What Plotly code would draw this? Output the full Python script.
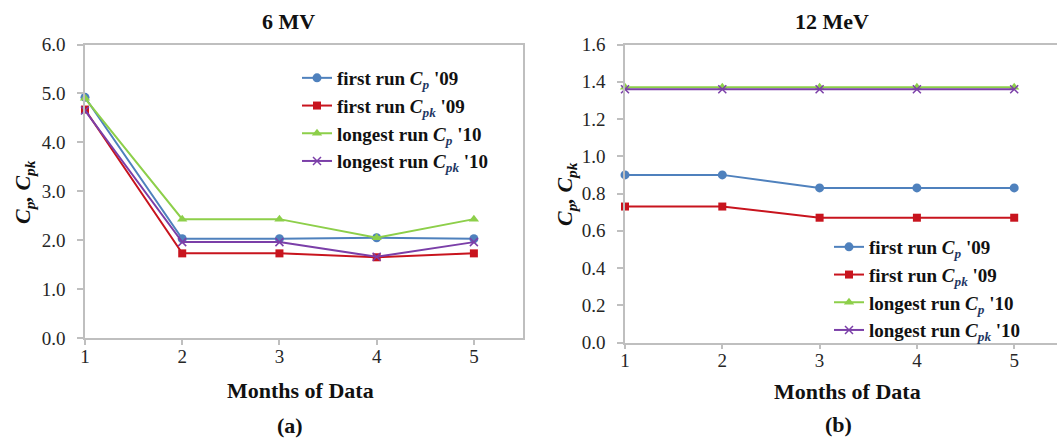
import plotly.graph_objects as go

# Months of accumulated data
months = [1, 2, 3, 4, 5]

# (a) 6 MV photon beam
mv6_first_cp = [4.92, 2.03, 2.03, 2.05, 2.03]
mv6_first_cpk = [4.67, 1.73, 1.73, 1.65, 1.73]
mv6_longest_cp = [4.90, 2.43, 2.43, 2.05, 2.43]
mv6_longest_cpk = [4.65, 1.96, 1.96, 1.66, 1.96]

# (b) 12 MeV electron beam
mev12_first_cp = [0.90, 0.90, 0.83, 0.83, 0.83]
mev12_first_cpk = [0.73, 0.73, 0.67, 0.67, 0.67]
mev12_longest_cp = [1.37, 1.37, 1.37, 1.37, 1.37]
mev12_longest_cpk = [1.36, 1.36, 1.36, 1.36, 1.36]

SERIF = "Liberation Serif"
W, H = 1057, 441
SUB = "#1F3864"


def sub(s):
    return f"<i><span style='color:{SUB}'><sub>{s}</sub></span></i>"


names = [
    f"<b>first run <i>C</i>{sub('p')} '09</b>",
    f"<b>first run <i>C</i>{sub('pk')} '09</b>",
    f"<b>longest run <i>C</i>{sub('p')} '10</b>",
    f"<b>longest run <i>C</i>{sub('pk')} '10</b>",
]
styles = [
    dict(color="#4F81BD", symbol="circle", size=9),
    dict(color="#C8141E", symbol="square", size=8),
    dict(color="#8DCF4A", symbol="triangle-up", size=9),
    dict(color="#7B3FA8", symbol="x-thin", size=8),
]

fig = go.Figure()

panels = [
    ([mv6_first_cp, mv6_first_cpk, mv6_longest_cp, mv6_longest_cpk], "x", "y", "legend"),
    ([mev12_first_cp, mev12_first_cpk, mev12_longest_cp, mev12_longest_cpk], "x2", "y2", "legend2"),
]
for series, xa, ya, lg in panels:
    for vals, name, st in zip(series, names, styles):
        marker = dict(color=st["color"], symbol=st["symbol"], size=st["size"])
        if st["symbol"] == "x-thin":
            marker["line"] = dict(color=st["color"], width=1.5)
        fig.add_trace(go.Scatter(
            x=months, y=vals, name=name, mode="lines+markers",
            line=dict(color=st["color"], width=2), marker=marker,
            xaxis=xa, yaxis=ya, legend=lg, cliponaxis=False,
        ))

axis_gray = "#BFBFBF"
tick_font = dict(family=SERIF, size=19, color="#262626")

common_x = dict(
    range=[1, 5.5], tickvals=months, showgrid=False, zeroline=False,
    showline=True, linecolor=axis_gray, linewidth=1.5, mirror=True,
    ticks="outside", ticklen=5, tickcolor=axis_gray, tickwidth=1.5,
    tickfont=tick_font, ticklabelstandoff=-5, automargin=False,
)
common_y = dict(
    showgrid=False, zeroline=False, showline=True, linecolor=axis_gray,
    linewidth=1.5, ticks="outside", ticklen=6, tickcolor=axis_gray,
    tickwidth=1.5, tickfont=tick_font, tickformat=".1f", ticklabelstandoff=8,
    automargin=False,
)


def py(y):
    return 1 - y / H


legend_font = dict(family=SERIF, size=19, color="#111111")

fig.update_layout(
    width=W, height=H,
    margin=dict(l=0, r=0, t=0, b=0, autoexpand=False),
    paper_bgcolor="white", plot_bgcolor="white",
    font=dict(family=SERIF),
    xaxis=dict(common_x, domain=[85 / W, 522.5 / W], anchor="y"),
    yaxis=dict(common_y, domain=[py(338), py(44.5)], range=[0, 6], dtick=1,
               mirror=True, anchor="x"),
    xaxis2=dict(common_x, domain=[625 / W, 1.0], anchor="y2",
                range=[1, 1 + (W - 625) / 97.3]),
    yaxis2=dict(common_y, domain=[py(342.5), py(44.5)], range=[0, 1.6], dtick=0.2,
                mirror=False, anchor="x2"),
    legend=dict(
        x=297 / W, y=py(59), xanchor="left", yanchor="top",
        font=legend_font, bgcolor="rgba(0,0,0,0)", itemwidth=30, tracegroupgap=0,
    ),
    legend2=dict(
        x=829 / W, y=py(228), xanchor="left", yanchor="top",
        font=legend_font, bgcolor="rgba(0,0,0,0)", itemwidth=30, tracegroupgap=0,
    ),
    showlegend=True,
)

bold_font = dict(family=SERIF, size=22, color="#111111")
texts = [
    ("<b>6 MV</b>", 288, 21, 0),
    ("<b>12 MeV</b>", 832, 22, 0),
    ("<b>Months of Data</b>", 300, 390, 0),
    ("<b>Months of Data</b>", 847, 391, 0),
    ("<b>(a)</b>", 290, 425, 0),
    ("<b>(b)</b>", 838, 424, 0),
    ("<b><i>C<sub>p</sub>, C<sub>pk</sub></i></b>", 24, 192, -90),
    ("<b><i>C<sub>p</sub>, C<sub>pk</sub></i></b>", 566, 194, -90),
]
for txt, x, y, ang in texts:
    fig.add_annotation(
        text=txt, x=x / W, y=py(y), xref="paper", yref="paper",
        xanchor="center", yanchor="middle", showarrow=False,
        textangle=ang, font=bold_font,
    )

fig.write_html("out.html")
